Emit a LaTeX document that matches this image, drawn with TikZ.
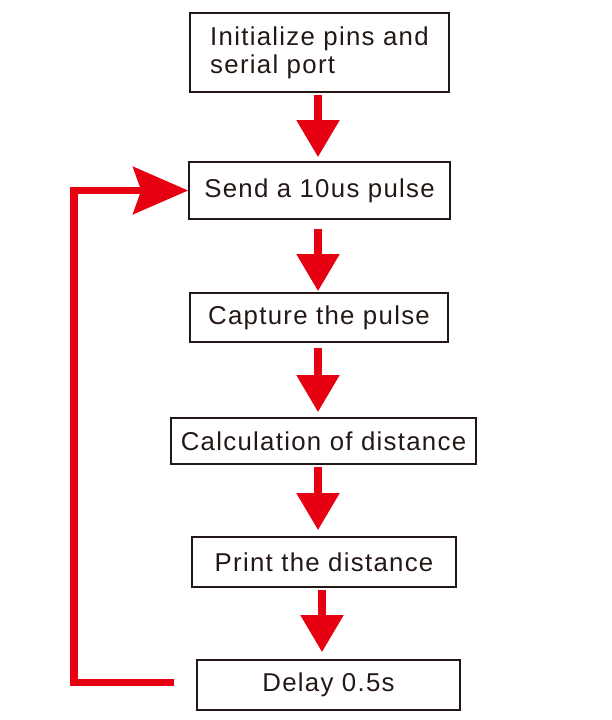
\documentclass[tikz,border=0pt]{standalone}
\usepackage{fontspec}
\setmainfont{Liberation Sans}[LetterSpace=5]
\usetikzlibrary{arrows.meta}
\definecolor{arred}{HTML}{E60012}
\definecolor{ink}{HTML}{231815}
\tikzset{
  x=1pt,y=-1pt,
  box/.style={draw=ink,line width=1.6pt,rectangle,inner sep=0pt,text=ink,
    font=\fontsize{25.8}{28}\selectfont},
  downarr/.style={draw=arred,line width=8pt,-{Triangle[length=37pt,width=41pt]}},
  looparr/.style={draw=arred,line width=7.5pt,line join=miter,
    -{Stealth[length=55pt,width=47pt,inset=8pt]}},
}
\begin{document}
\begin{tikzpicture}
\useasboundingbox (0,0) rectangle (611,720);
\node[box,minimum width=259pt,minimum height=79pt,align=left] (b1) at (319.5,52.5) {Initialize pins and\\serial port};
\node[box,minimum width=261pt,minimum height=57pt] (b2) at (319.5,190.5) {Send a 10us pulse};
\node[box,minimum width=258pt,minimum height=49pt] (b3) at (319,317.5) {Capture the pulse};
\node[box,minimum width=305pt,minimum height=46pt] (b4) at (323.5,441) {Calculation of distance};
\node[box,minimum width=264pt,minimum height=50pt] (b5) at (324,562) {Print the distance};
\node[box,minimum width=263pt,minimum height=50pt] (b6) at (328.5,685) {Delay 0.5s};
\coordinate (ax) at (318,0);
\coordinate (bx) at (322,0);
\coordinate (lx) at (74,0);
\draw[downarr] ([yshift=-2pt]b1.south -| ax) -- ([yshift=4pt]b2.north -| ax);
\draw[downarr] ([yshift=-9pt]b2.south -| ax) -- ([yshift=1pt]b3.north -| ax);
\draw[downarr] ([yshift=-5pt]b3.south -| ax) -- ([yshift=5pt]b4.north -| ax);
\draw[downarr] ([yshift=-2pt]b4.south -| ax) -- ([yshift=6pt]b5.north -| ax);
\draw[downarr] ([yshift=-2pt]b5.south -| bx) -- ([yshift=7pt]b6.north -| bx);
\draw[looparr] ([xshift=-22pt,yshift=2.5pt]b6.west) -| (lx |- b2.west) -- (b2.west);
\end{tikzpicture}
\end{document}
